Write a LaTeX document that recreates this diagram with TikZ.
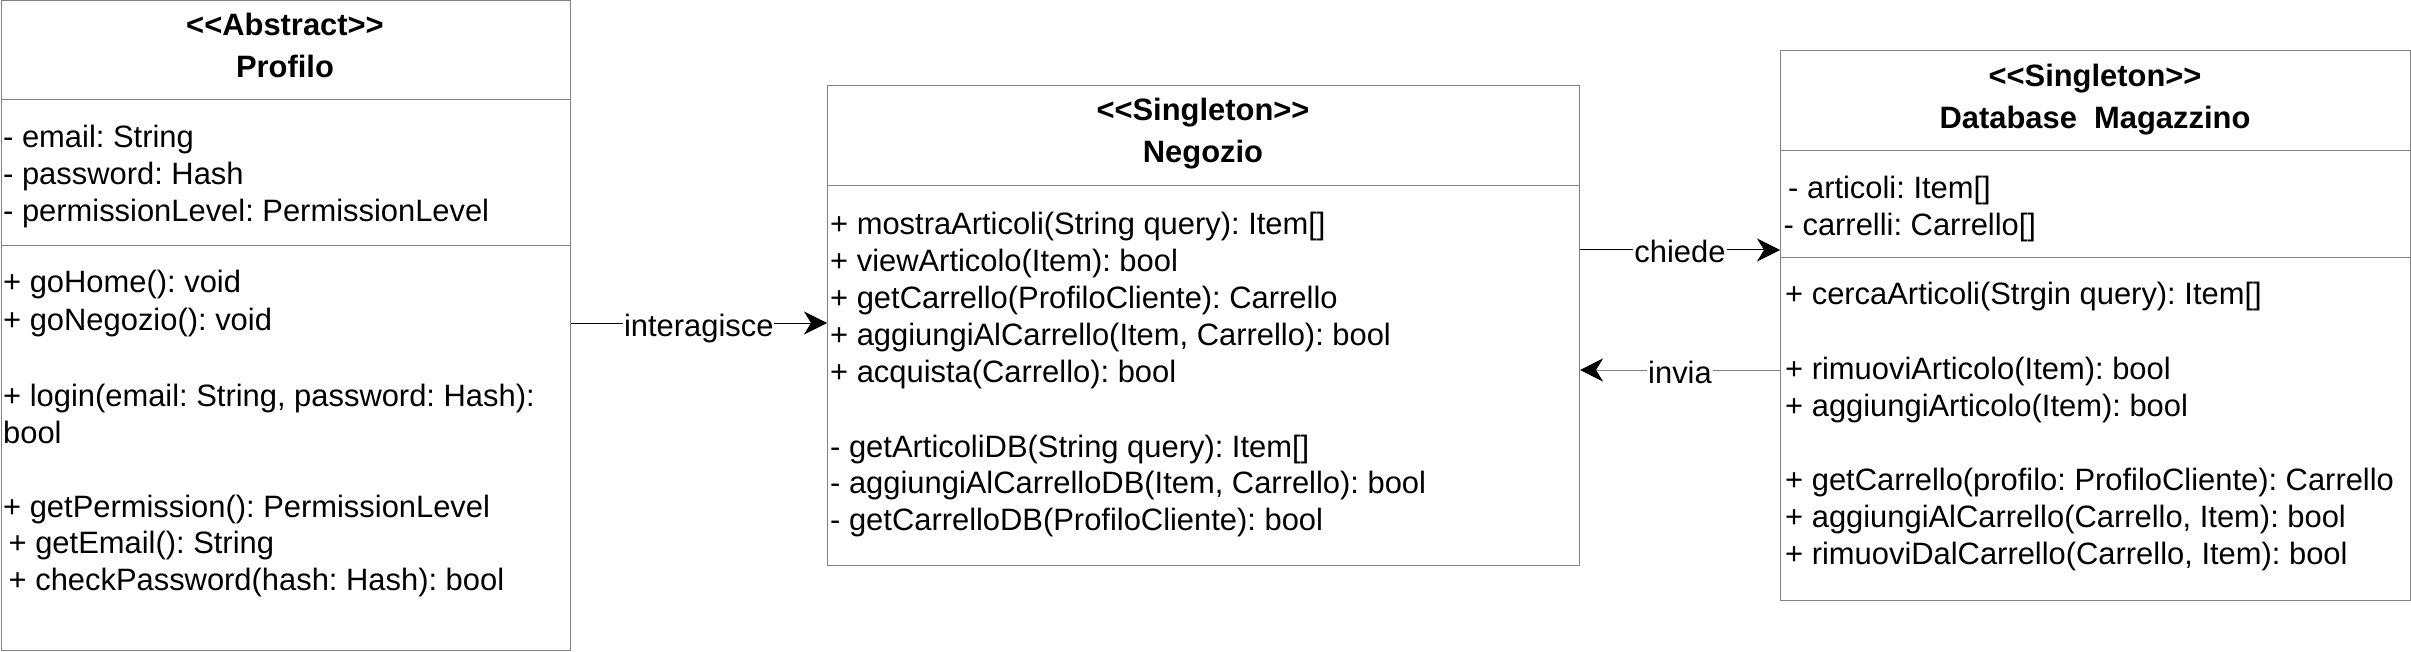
\documentclass[tikz,border=0pt]{standalone}
\usepackage{fontspec}
\setmainfont{Liberation Sans}
\usetikzlibrary{arrows.meta}
\definecolor{boxgray}{HTML}{828282}
\newcommand\fsz{\fontsize{30.9}{37}\selectfont\frenchspacing}
\newcommand\myLG{<\kern0pt<}
\newcommand\myRG{>\kern0pt>}
\begin{document}
\frenchspacing
\begin{tikzpicture}[x=1pt,y=-1pt,
  box/.style={draw=boxgray, line width=1pt, inner sep=0pt, anchor=north west},
  sepline/.style={draw=boxgray, line width=1pt},
  txt/.style={anchor=base west, inner sep=0pt, font=\fsz},
  ttl/.style={anchor=base, inner sep=0pt, font=\fsz\bfseries},
  conn/.style={line width=1pt, -{Stealth[length=23pt,width=23pt,inset=7pt]}},
  conngray/.style={line width=1pt, draw=boxgray, -{Stealth[length=23pt,width=23pt,inset=7pt,color=black]}},
  lbl/.style={fill=white, inner xsep=1pt, inner ysep=2pt, font=\fsz, anchor=base, yshift=-13pt}]
\useasboundingbox (0,0) rectangle (2411,652);
\fill[white] (0,0) rectangle (2411,652);

% boxes
\node[box, minimum width=569pt, minimum height=649pt] (prof) at (0.5,0.5) {};
\node[box, minimum width=752pt, minimum height=480pt] (neg) at (827,85) {};
\node[box, minimum width=629.5pt, minimum height=549.5pt] (db) at (1780,50.5) {};

% compartment dividers
\draw[sepline] (0.5,100) -- (569.5,100);
\draw[sepline] (0.5,246) -- (569.5,246);
\draw[sepline] (827,185.5) -- (1579,185.5);
\draw[sepline] (1780,151) -- (2409.5,151);
\draw[sepline] (1780,258) -- (2409.5,258);

% Profilo
\node[ttl] (pT1) at (285,36) {\myLG Abstract\myRG};
\node[ttl] (pT2) at (285,78) {Profilo};
\node[txt] (pa1) at (3,148) {- email: String};
\node[txt] (pa2) at (3,185) {- password: Hash};
\node[txt] (pa3) at (3,222) {- permissionLevel: PermissionLevel};
\node[txt] (pm1) at (3,293) {+ goHome(): void};
\node[txt] (pm2) at (3,330) {+ goNegozio(): void};
\node[txt] (pm3) at (3,406) {+ login(email: String, password: Hash):};
\node[txt] (pm4) at (3,443) {bool};
\node[txt] (pm5) at (3,517) {+ getPermission(): PermissionLevel};
\node[txt] (pm6) at (8.5,553) {+ getEmail(): String};
\node[txt] (pm7) at (8.5,590) {+ checkPassword(hash: Hash): bool};

% Negozio
\node[ttl] (nT1) at (1203,121) {\myLG Singleton\myRG};
\node[ttl] (nT2) at (1203,163) {Negozio};
\node[txt] (nm1) at (830,235) {+ mostraArticoli(String query): Item[]};
\node[txt] (nm2) at (830,272) {+ viewArticolo(Item): bool};
\node[txt] (nm3) at (830,308) {+ getCarrello(ProfiloCliente): Carrello};
\node[txt] (nm4) at (830,345) {+ aggiungiAlCarrello(Item, Carrello): bool};
\node[txt] (nm5) at (830,382) {+ acquista(Carrello): bool};
\node[txt] (nm6) at (830,457) {- getArticoliDB(String query): Item[]};
\node[txt] (nm7) at (830,493) {- aggiungiAlCarrelloDB(Item, Carrello): bool};
\node[txt] (nm8) at (830,530) {- getCarrelloDB(ProfiloCliente): bool};

% Database Magazzino
\node[ttl] (dT1) at (2095,87) {\myLG Singleton\myRG};
\node[ttl] (dT2) at (2095,129) {Database\ \ Magazzino};
\node[txt] (da1) at (1788,199) {- articoli: Item[]};
\node[txt] (da2) at (1783.5,236) {- carrelli: Carrello[]};
\node[txt] (dm1) at (1785,305) {+ cercaArticoli(Strgin query): Item[]};
\node[txt] (dm2) at (1785,379) {+ rimuoviArticolo(Item): bool};
\node[txt] (dm3) at (1785,416) {+ aggiungiArticolo(Item): bool};
\node[txt] (dm4) at (1785,490) {+ getCarrello(profilo: ProfiloCliente): Carrello};
\node[txt] (dm5) at (1785,527) {+ aggiungiAlCarrello(Carrello, Item): bool};
\node[txt] (dm6) at (1785,564) {+ rimuoviDalCarrello(Carrello, Item): bool};

% connectors
\coordinate (yI) at (0,323);
\coordinate (yC) at (0,250);
\coordinate (yV) at (0,370);
\draw[conn] (prof.east |- yI) -- node[lbl] (lI) {interagisce} (neg.west |- yI);
\draw[conn] (neg.east |- yC) -- node[lbl] (lC) {chiede} (db.west |- yC);
\draw[conngray] (db.west |- yV) -- node[lbl] (lV) {invia} (neg.east |- yV);
\end{tikzpicture}
\end{document}
